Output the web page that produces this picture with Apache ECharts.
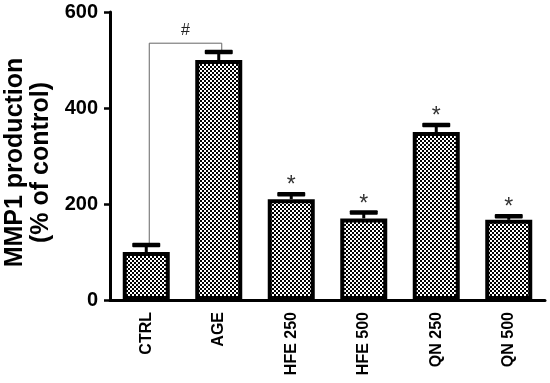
<!DOCTYPE html>
<html><head><meta charset="utf-8">
<script src="https://cdn.jsdelivr.net/npm/echarts@6/dist/echarts.min.js"></script>
<style>html,body{margin:0;padding:0;background:#fff}#c{width:550px;height:383px}</style>
</head><body><div id="c"></div>
<script>
const categories = ['CTRL', 'AGE', 'HFE 250', 'HFE 500', 'QN 250', 'QN 500'];
const means = [100, 500, 210, 170, 350, 167];
const errors = [15, 17, 11, 13, 15, 8];
const stars = ['', '', '*', '*', '*', '*'];
const yTicks = [0, 200, 400, 600];
const bracketFrom = 0, bracketTo = 1, bracketLevel = 535, bracketLabel = '#';

const tile = document.createElement('canvas');
tile.width = 4; tile.height = 4;
const tc = tile.getContext('2d');
tc.fillStyle = '#fff'; tc.fillRect(0, 0, 4, 4);
tc.fillStyle = '#000'; tc.fillRect(0, 0, 2, 2); tc.fillRect(2, 2, 2, 2);

const chart = echarts.init(document.getElementById('c'), null, {renderer: 'canvas'});
const FONT = 'Liberation Sans, Arial, sans-serif';
chart.setOption({
  animation: false,
  grid: {left: 110, right: 5, top: 12, bottom: 83, containLabel: false, outerBoundsMode: 'none'},
  xAxis: {
    type: 'category', data: categories,
    axisLine: {lineStyle: {color: '#000', width: 3}},
    axisTick: {alignWithLabel: true, length: 6, lineStyle: {color: '#000', width: 2.5}},
    axisLabel: {rotate: 90, margin: 12, color: '#000', fontWeight: 'bold', fontSize: 16, fontFamily: FONT}
  },
  yAxis: {
    type: 'value', min: 0, max: 600, interval: 200,
    name: 'MMP1 production\n(% of control)', nameLocation: 'middle', nameGap: 54, nameRotate: 90,
    nameTextStyle: {color: '#000', fontWeight: 'bold', fontSize: 25, fontFamily: FONT, lineHeight: 26, padding: [0, 13, 0, 0]},
    axisLine: {show: true, lineStyle: {color: '#000', width: 3}},
    axisTick: {show: true, length: 6, lineStyle: {color: '#000', width: 2.5}},
    axisLabel: {margin: 12, color: '#000', fontWeight: 'bold', fontSize: 20, fontFamily: FONT,
      formatter: v => yTicks.includes(v) ? String(v) : ''},
    splitLine: {show: false}
  },
  series: [
    {
      type: 'bar', data: means, barWidth: 47,
      itemStyle: {color: {image: tile, repeat: 'repeat'}, borderColor: '#000', borderWidth: 4},
      z: 2
    },
    {
      type: 'custom', z: 3,
      data: categories.map((c, i) => [i, means[i], errors[i]]),
      renderItem: (params, api) => {
        const i = api.value(0);
        const top = api.coord([i, api.value(1) + api.value(2)]);
        const base = api.coord([i, api.value(1)]);
        const ch = [
          {type: 'rect', shape: {x: top[0] - 1.5, y: top[1], width: 3, height: base[1] - top[1]}, style: {fill: '#000'}},
          {type: 'rect', shape: {x: top[0] - 14, y: top[1] - 2, width: 28, height: 4.5, r: 1}, style: {fill: '#000'}}
        ];
        const s = stars[params.dataIndex];
        if (s) ch.push({type: 'text', x: top[0], y: top[1] - 8,
          style: {text: s, fill: '#333', font: '23px ' + FONT, align: 'center', verticalAlign: 'middle'}});
        return {type: 'group', children: ch};
      }
    },
    {
      type: 'custom', z: 1,
      data: [[bracketFrom, bracketTo, bracketLevel]],
      renderItem: (params, api) => {
        const a = api.value(0), b = api.value(1);
        const pa = api.coord([a, means[a] + errors[a]]);
        const pb = api.coord([b, means[b] + errors[b]]);
        const lvl = api.coord([a, api.value(2)])[1];
        const xa = pa[0] + 3, xb = pb[0] + 3;
        return {type: 'group', children: [
          {type: 'polyline', shape: {points: [[xa, pa[1]], [xa, lvl], [xb, lvl], [xb, pb[1]]]},
            style: {stroke: '#666', lineWidth: 1, fill: null}},
          {type: 'text', x: (xa + xb) / 2, y: lvl - 5,
            style: {text: bracketLabel, fill: '#222', font: '16px ' + FONT, align: 'center', verticalAlign: 'bottom'}}
        ]};
      }
    }
  ]
});
</script></body></html>
